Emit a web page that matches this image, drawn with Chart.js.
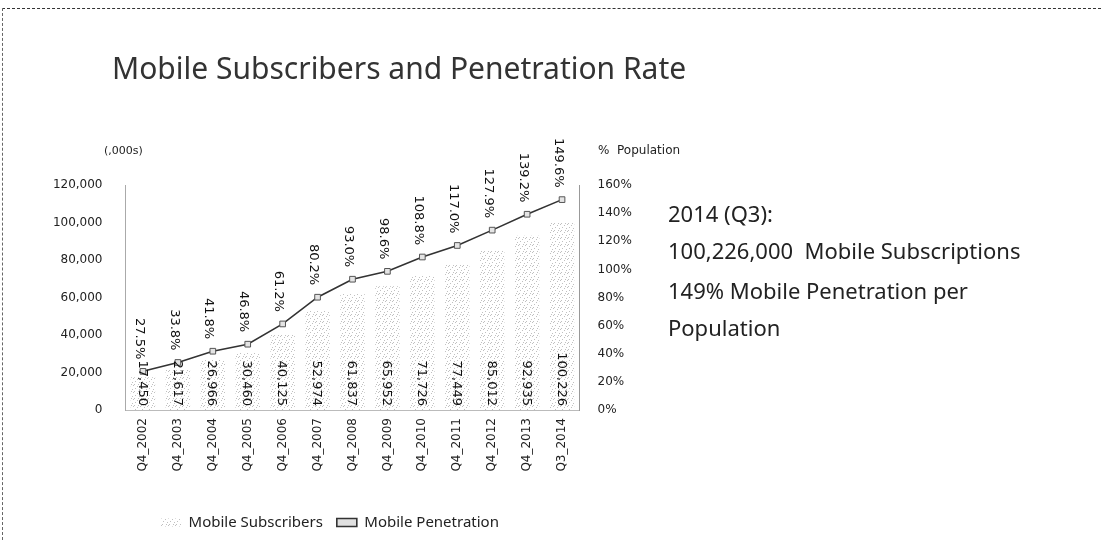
<!DOCTYPE html>
<html>
<head>
<meta charset="utf-8">
<title>Mobile Subscribers and Penetration Rate</title>
<script src="https://cdn.jsdelivr.net/npm/chart.js@4.4.1/dist/chart.umd.min.js"></script>
<style>
  html, body { margin: 0; padding: 0; background: #fff; }
  #wrap { position: relative; width: 1101px; height: 540px; overflow: hidden; }
  #frame {
    position: absolute; left: 2px; top: 8px; right: 0; bottom: 0;
    border-top: 1px dashed #333; border-left: 1px dashed #666;
    pointer-events: none;
  }
</style>
</head>
<body>
<div id="wrap">
  <canvas id="mobileChart" width="1101" height="540"></canvas>
  <div id="frame"></div>
</div>
<script>
const quarters = ["Q4_2002", "Q4_2003", "Q4_2004", "Q4_2005", "Q4_2006", "Q4_2007", "Q4_2008",
                  "Q4_2009", "Q4_2010", "Q4_2011", "Q4_2012", "Q4_2013", "Q3_2014"];
const subscribers = [17450, 21617, 26966, 30460, 40125, 52974, 61837, 65952, 71726, 77449, 85012, 92935, 100226];
const penetration = [27.5, 33.8, 41.8, 46.8, 61.2, 80.2, 93.0, 98.6, 108.8, 117.0, 127.9, 139.2, 149.6];
const subscriberTicks = [0, 20000, 40000, 60000, 80000, 100000, 120000];
const penetrationTicks = [0, 20, 40, 60, 80, 100, 120, 140, 160];

const chartTitle = "Mobile Subscribers and Penetration Rate";
const noteLines = ["2014 (Q3):", "100,226,000  Mobile Subscriptions", "149% Mobile Penetration per", "Population"];

Chart.defaults.font.family = '"DejaVu Sans", sans-serif';
Chart.defaults.color = "#222";

// sparse stipple like the scanned bars
function stipple() {
  const c = document.createElement("canvas");
  c.width = 7;
  c.height = 7;
  const g = c.getContext("2d");
  g.fillStyle = "rgba(130,130,130,0.5)";
  [[0, 0], [4, 1], [2, 3], [6, 4], [1, 6], [5, 6]].forEach(([x, y]) => g.fillRect(x, y, 1, 1));
  return g.createPattern(c, "repeat");
}
const barFill = stipple();

const textPlugin = {
  id: "extraText",
  afterDraw(chart) {
    const { ctx } = chart;
    ctx.save();
    ctx.fillStyle = "#333";
    ctx.font = '30px "Noto Sans"';
    ctx.textBaseline = "alphabetic";
    ctx.fillText(chartTitle, 112, 79);

    // axis headers
    ctx.fillStyle = "#222";
    ctx.font = '11px "DejaVu Sans"';
    ctx.textBaseline = "middle";
    ctx.fillText("(,000s)", 104, 151);
    ctx.font = '12px "DejaVu Sans"';
    ctx.fillText("%  Population", 598, 151);

    // note on the right
    ctx.font = '22px "Noto Sans"';
    const ys = [216, 253, 293, 330];
    noteLines.forEach((t, i) => ctx.fillText(t, 668, ys[i]));
    ctx.restore();
  },
};

const valueLabels = {
  id: "valueLabels",
  afterDatasetsDraw(chart) {
    const { ctx } = chart;
    ctx.save();
    ctx.font = '13px "DejaVu Sans"';
    ctx.fillStyle = "#111";
    ctx.textAlign = "right";
    ctx.textBaseline = "middle";

    const bars = chart.getDatasetMeta(0).data;
    bars.forEach((bar, i) => {
      ctx.save();
      ctx.translate(bar.x - 1, bar.base - 4);
      ctx.rotate(Math.PI / 2);
      ctx.fillText(subscribers[i].toLocaleString("en-US"), 0, 0);
      ctx.restore();
    });

    const points = chart.getDatasetMeta(1).data;
    points.forEach((pt, i) => {
      ctx.save();
      ctx.translate(pt.x - 4, pt.y - 12);
      ctx.rotate(Math.PI / 2);
      ctx.fillText(penetration[i].toFixed(1) + "%", 0, 0);
      ctx.restore();
    });
    ctx.restore();
  },
};

const ctx = document.getElementById("mobileChart").getContext("2d");
const mobileChart = new Chart(ctx, {
  type: "bar",
  data: {
    labels: quarters,
    datasets: [
      {
        type: "bar",
        label: "Mobile Subscribers",
        data: subscribers,
        backgroundColor: barFill,
        borderWidth: 0,
        categoryPercentage: 1,
        barPercentage: 0.7,
        yAxisID: "y",
        order: 2,
      },
      {
        type: "line",
        label: "Mobile Penetration",
        data: penetration,
        borderColor: "#333",
        borderWidth: 1.6,
        backgroundColor: "#e0e0e0",
        pointStyle: "rect",
        pointRadius: 4,
        pointBorderColor: "#555",
        pointBorderWidth: 1,
        pointBackgroundColor: "#e4e4e4",
        tension: 0,
        yAxisID: "y1",
        order: 1,
      },
    ],
  },
  options: {
    responsive: false,
    animation: false,
    layout: {
      padding: { top: 185, right: 441, bottom: 0, left: 0 },
    },
    scales: {
      x: {
        grid: { display: false, drawTicks: false },
        border: { display: true, color: "#bbb", dash: [1, 3] },
        ticks: {
          autoSkip: false,
          minRotation: 90,
          maxRotation: 90,
          padding: 8,
          font: { size: 12 },
        },
        afterFit(scale) {
          scale.height = 91;
        },
      },
      y: {
        position: "left",
        min: 0,
        max: 120000,
        grid: { display: false, drawTicks: false },
        border: { display: true, color: "#aaa", dash: [1, 2] },
        afterBuildTicks(scale) {
          scale.ticks = subscriberTicks.map((v) => ({ value: v }));
        },
        ticks: {
          padding: 23,
          font: { size: 12 },
          callback: (v) => v.toLocaleString("en-US"),
        },
        afterFit(scale) {
          scale.width = 125.5;
        },
      },
      y1: {
        position: "right",
        min: 0,
        max: 160,
        grid: { display: false, drawTicks: false },
        border: { display: true, color: "#999", dash: [1, 2] },
        afterBuildTicks(scale) {
          scale.ticks = penetrationTicks.map((v) => ({ value: v }));
        },
        ticks: {
          padding: 18,
          font: { size: 12 },
          callback: (v) => v + "%",
        },
        afterFit(scale) {
          scale.width = 80.5;
        },
      },
    },
    plugins: {
      title: { display: false },
      tooltip: { enabled: false },
      legend: {
        display: true,
        position: "bottom",
        labels: {
          boxWidth: 20,
          boxHeight: 8,
          padding: 14,
          color: "#222",
          font: { family: '"Noto Sans"', size: 15 },
          sort: (a, b) => a.datasetIndex - b.datasetIndex,
        },
      },
    },
  },
  plugins: [valueLabels, textPlugin],
});
</script>
</body>
</html>
